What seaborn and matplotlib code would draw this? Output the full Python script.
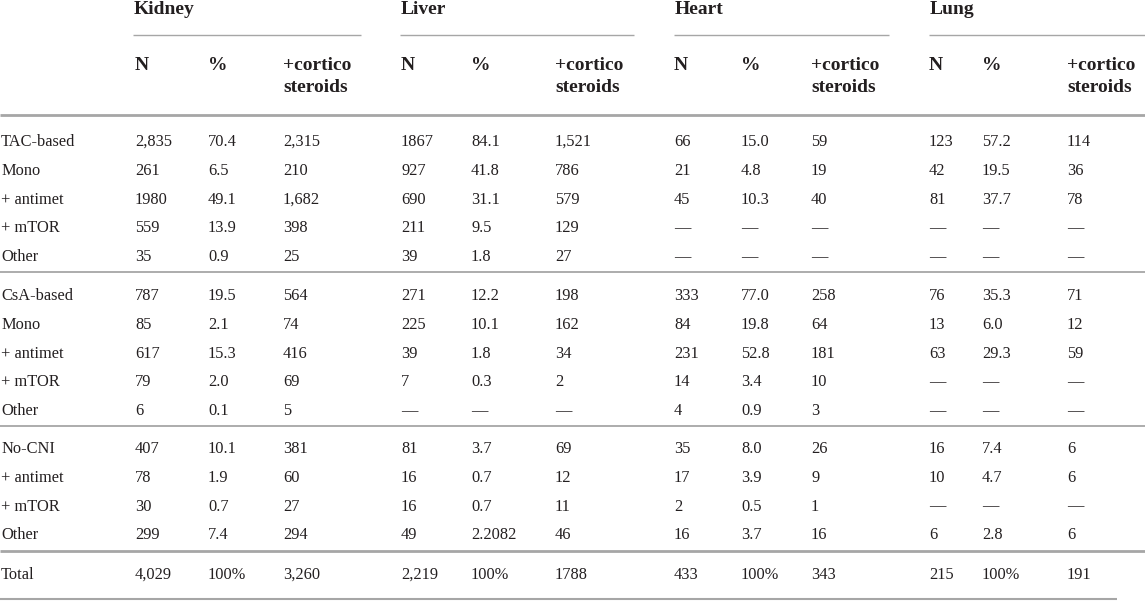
import matplotlib
matplotlib.use("Agg")
import matplotlib.pyplot as plt
import seaborn as sns

# Table data (strings as printed in the source table)
row_labels = [
    "TAC-based", "Mono", "+ antimet", "+ mTOR", "Other",
    "CsA-based", "Mono", "+ antimet", "+ mTOR", "Other",
    "No-CNI", "+ antimet", "+ mTOR", "Other",
    "Total",
]
organs = ["Kidney", "Liver", "Heart", "Lung"]
sub_cols = ["N", "%", "+cortico\nsteroids"]

D = "\u2014"
kidney_n = ["2,835", "261", "1980", "559", "35", "787", "85", "617", "79", "6",
            "407", "78", "30", "299", "4,029"]
kidney_pct = ["70.4", "6.5", "49.1", "13.9", "0.9", "19.5", "2.1", "15.3", "2.0", "0.1",
              "10.1", "1.9", "0.7", "7.4", "100%"]
kidney_cs = ["2,315", "210", "1,682", "398", "25", "564", "74", "416", "69", "5",
             "381", "60", "27", "294", "3,260"]

liver_n = ["1867", "927", "690", "211", "39", "271", "225", "39", "7", D,
           "81", "16", "16", "49", "2,219"]
liver_pct = ["84.1", "41.8", "31.1", "9.5", "1.8", "12.2", "10.1", "1.8", "0.3", D,
             "3.7", "0.7", "0.7", "2.2082", "100%"]
liver_cs = ["1,521", "786", "579", "129", "27", "198", "162", "34", "2", D,
            "69", "12", "11", "46", "1788"]

heart_n = ["66", "21", "45", D, D, "333", "84", "231", "14", "4",
           "35", "17", "2", "16", "433"]
heart_pct = ["15.0", "4.8", "10.3", D, D, "77.0", "19.8", "52.8", "3.4", "0.9",
             "8.0", "3.9", "0.5", "3.7", "100%"]
heart_cs = ["59", "19", "40", D, D, "258", "64", "181", "10", "3",
            "26", "9", "1", "16", "343"]

lung_n = ["123", "42", "81", D, D, "76", "13", "63", D, D,
          "16", "10", D, "6", "215"]
lung_pct = ["57.2", "19.5", "37.7", D, D, "35.3", "6.0", "29.3", D, D,
            "7.4", "4.7", D, "2.8", "100%"]
lung_cs = ["114", "36", "78", D, D, "71", "12", "59", D, D,
           "6", "6", D, "6", "191"]

columns = [kidney_n, kidney_pct, kidney_cs, liver_n, liver_pct, liver_cs,
           heart_n, heart_pct, heart_cs, lung_n, lung_pct, lung_cs]

# layout (pixel coordinates)
W, H = 1145, 601
col_x = [135, 208, 283, 401, 471, 555, 674, 741, 811, 929, 982, 1067]
organ_span = [(133, 361), (400, 634), (674, 889), (929, W)]
group_start = [142, 296, 449, 575]
group_size = [5, 5, 4, 1]
row_step = 28.8

row_y = []
for start, n in zip(group_start, group_size):
    row_y += [start + i * row_step for i in range(n)]

sns.set_theme(style="white")
plt.rcParams["font.family"] = ["Liberation Serif", "DejaVu Serif"]

txt = "#231f20"
line_c = "#a6a6a6"

fig = plt.figure(figsize=(W / 100, H / 100), dpi=100)
ax = fig.add_axes([0, 0, 1, 1])
ax.set_xlim(0, W)
ax.set_ylim(H, 0)
ax.axis("off")

# organ headers with underline
for name, (x0, x1) in zip(organs, organ_span):
    ax.text(x0 + 1, 10, name, fontsize=14, fontweight="bold", color=txt, va="center", ha="left")
    ax.hlines(35, x0, x1, color=line_c, lw=1.0)

# sub headers
for i, x in enumerate(col_x):
    lab = sub_cols[i % 3]
    if "\n" in lab:
        top, bottom = lab.split("\n")
        ax.text(x, 65, top, fontsize=14, fontweight="bold", color=txt, va="center", ha="left")
        ax.text(x, 88, bottom, fontsize=14, fontweight="bold", color=txt, va="center", ha="left")
    else:
        ax.text(x, 65, lab, fontsize=14, fontweight="bold", color=txt, va="center", ha="left")

# rules
ax.hlines(115, 0, W, color=line_c, lw=2.0)
ax.hlines(272, 0, W, color=line_c, lw=1.3)
ax.hlines(426, 0, W, color=line_c, lw=1.3)
ax.hlines(551, 0, W, color=line_c, lw=2.0)
ax.hlines(599, 0, 1117, color=line_c, lw=1.5)

# body
for lab, y in zip(row_labels, row_y):
    ax.text(1, y, lab, fontsize=11.8, color=txt, va="center", ha="left")
for x, vals in zip(col_x, columns):
    for v, y in zip(vals, row_y):
        ax.text(x, y, v, fontsize=11.8, color=txt, va="center", ha="left")

fig.savefig("out.png", dpi=100, facecolor="white")
